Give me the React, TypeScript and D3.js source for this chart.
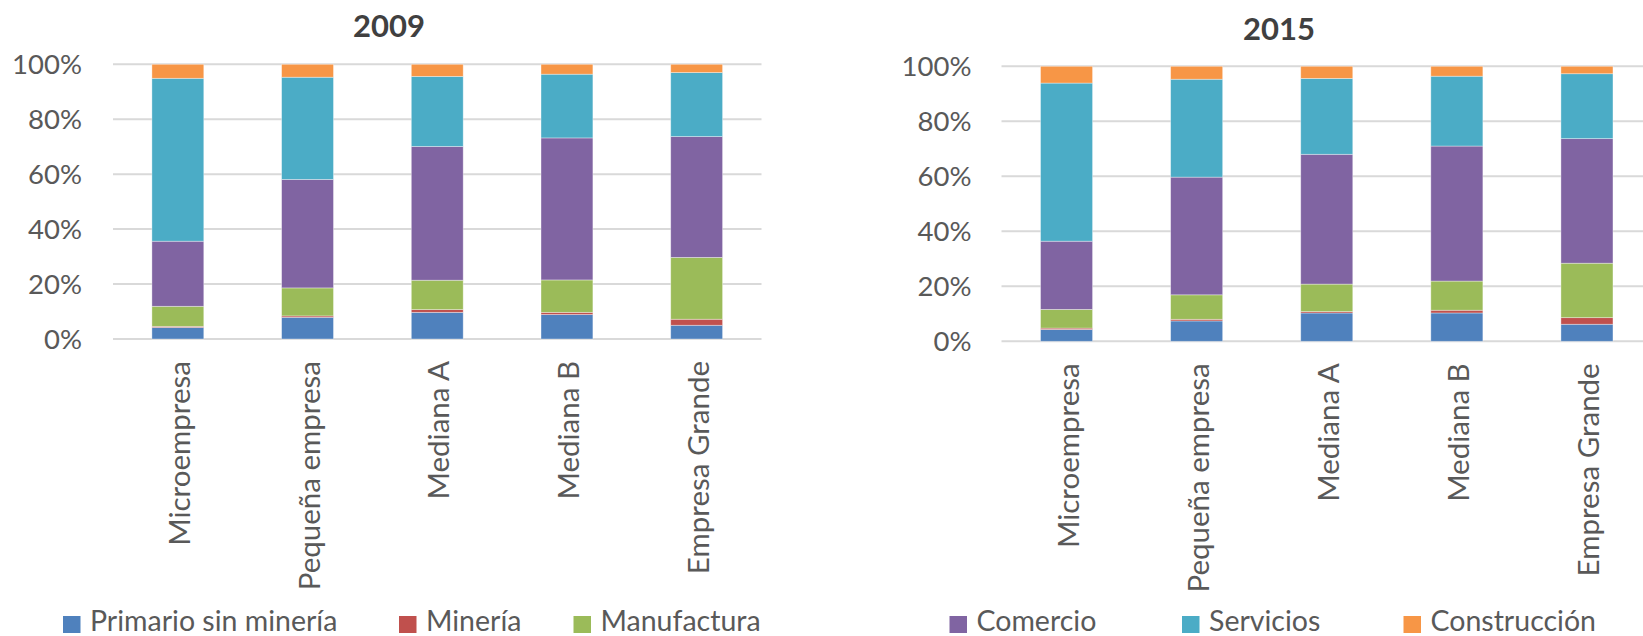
import React from "react";
import * as d3 from "d3";

const categories = ["Microempresa", "Pequeña empresa", "Mediana A", "Mediana B", "Empresa Grande"];
const seriesNames = ["Primario sin minería", "Minería", "Manufactura", "Comercio", "Servicios", "Construcción"];
const seriesColors = ["#4f81bd", "#c0504d", "#9bbb59", "#8064a2", "#4bacc6", "#f79646"];
const yTicks = [0, 20, 40, 60, 80, 100];

// 2009 shares (%) per category
const primario2009 = [4.2, 7.9, 9.7, 8.9, 5.0];
const mineria2009 = [0.4, 0.5, 1.0, 0.8, 2.2];
const manufactura2009 = [7.3, 10.2, 10.7, 11.8, 22.5];
const comercio2009 = [23.7, 39.5, 48.7, 51.7, 44.0];
const servicios2009 = [59.3, 37.2, 25.5, 23.2, 23.3];
const construccion2009 = [5.1, 4.7, 4.4, 3.6, 3.0];

// 2015 shares (%) per category
const primario2015 = [4.3, 7.4, 10.3, 10.3, 6.2];
const mineria2015 = [0.5, 0.6, 0.5, 1.0, 2.4];
const manufactura2015 = [6.8, 8.9, 10.0, 10.6, 19.8];
const comercio2015 = [24.8, 42.8, 47.2, 49.1, 45.3];
const servicios2015 = [57.5, 35.6, 27.6, 25.4, 23.6];
const construccion2015 = [6.1, 4.7, 4.4, 3.6, 2.7];

const series2009 = [primario2009, mineria2009, manufactura2009, comercio2009, servicios2009, construccion2009];
const series2015 = [primario2015, mineria2015, manufactura2015, comercio2015, servicios2015, construccion2015];

const FONT = "Lato, 'Open Sans', sans-serif";
const TEXT = "#595959";

type PanelProps = {
  title: string;
  series: number[][];
  x0: number;
  x1: number;
  yTop: number;
  yBottom: number;
  titleX: number;
  titleY: number;
  labelRight: number;
  legendItems: number[];
  legendX: number[];
};

function Panel(p: PanelProps) {
  const rows = categories.map((c, i) => {
    const r: any = { cat: c };
    seriesNames.forEach((s, j) => (r[s] = p.series[j][i]));
    return r;
  });
  const stacked = d3.stack<any>().keys(seriesNames).offset(d3.stackOffsetExpand)(rows);
  const x = d3.scaleBand<string>().domain(categories).range([p.x0, p.x1]).paddingInner(0.6).paddingOuter(0.3);
  const y = d3.scaleLinear().domain([0, 100]).range([p.yBottom, p.yTop]);
  const yFrac = d3.scaleLinear().domain([0, 1]).range([p.yBottom, p.yTop]);
  return (
    <g>
      <text x={p.titleX} y={p.titleY} textAnchor="middle" fontFamily={FONT} fontWeight="bold" fontSize={31} fill="#404040">
        {p.title}
      </text>
      {yTicks.map((t) => (
        <g key={t}>
          <line x1={p.x0} x2={p.x1} y1={y(t)} y2={y(t)} stroke="#d9d9d9" strokeWidth={2} />
          <text x={p.labelRight} y={y(t) + 10} textAnchor="end" fontFamily={FONT} fontSize={27.5} fill={TEXT}>
            {t + "%"}
          </text>
        </g>
      ))}
      {stacked.map((layer, j) => (
        <g key={layer.key} fill={seriesColors[j]}>
          {layer.map((d, i) => (
            <rect
              key={i}
              x={x(categories[i])}
              width={x.bandwidth()}
              y={yFrac(d[1])}
              height={yFrac(d[0]) - yFrac(d[1])}
              stroke="#ffffff"
              strokeOpacity={0.45}
              strokeWidth={0.8}
            />
          ))}
        </g>
      ))}
      {categories.map((c) => {
        const cx = (x(c) as number) + x.bandwidth() / 2 + 12;
        const cy = p.yBottom + 22;
        return (
          <text key={c} transform={`translate(${cx},${cy}) rotate(-90)`} textAnchor="end" fontFamily={FONT} fontSize={29.5} fill={TEXT}>
            {c}
          </text>
        );
      })}
      {p.legendItems.map((k, i) => (
        <g key={k}>
          <rect x={p.legendX[i]} y={616} width={17.5} height={17} fill={seriesColors[k]} />
          <text x={p.legendX[i] + 27} y={630.5} fontFamily={FONT} fontSize={28.5} fill={TEXT}>
            {seriesNames[k]}
          </text>
        </g>
      ))}
    </g>
  );
}

export default function App() {
  return (
    <svg width={1643} height={636} style={{ position: "absolute", left: 0, top: 0, background: "#fff" }}>
      <rect width={1643} height={636} fill="#fff" />
      <Panel
        title="2009"
        series={series2009}
        x0={113}
        x1={761.5}
        yTop={64.3}
        yBottom={339}
        titleX={389}
        titleY={37}
        labelRight={82}
        legendItems={[0, 1, 2]}
        legendX={[63, 399, 573.5]}
      />
      <Panel
        title="2015"
        series={series2015}
        x0={1001.5}
        x1={1652}
        yTop={66.3}
        yBottom={341.3}
        titleX={1279}
        titleY={40}
        labelRight={971.5}
        legendItems={[3, 4, 5]}
        legendX={[949.5, 1182, 1403.5]}
      />
    </svg>
  );
}
